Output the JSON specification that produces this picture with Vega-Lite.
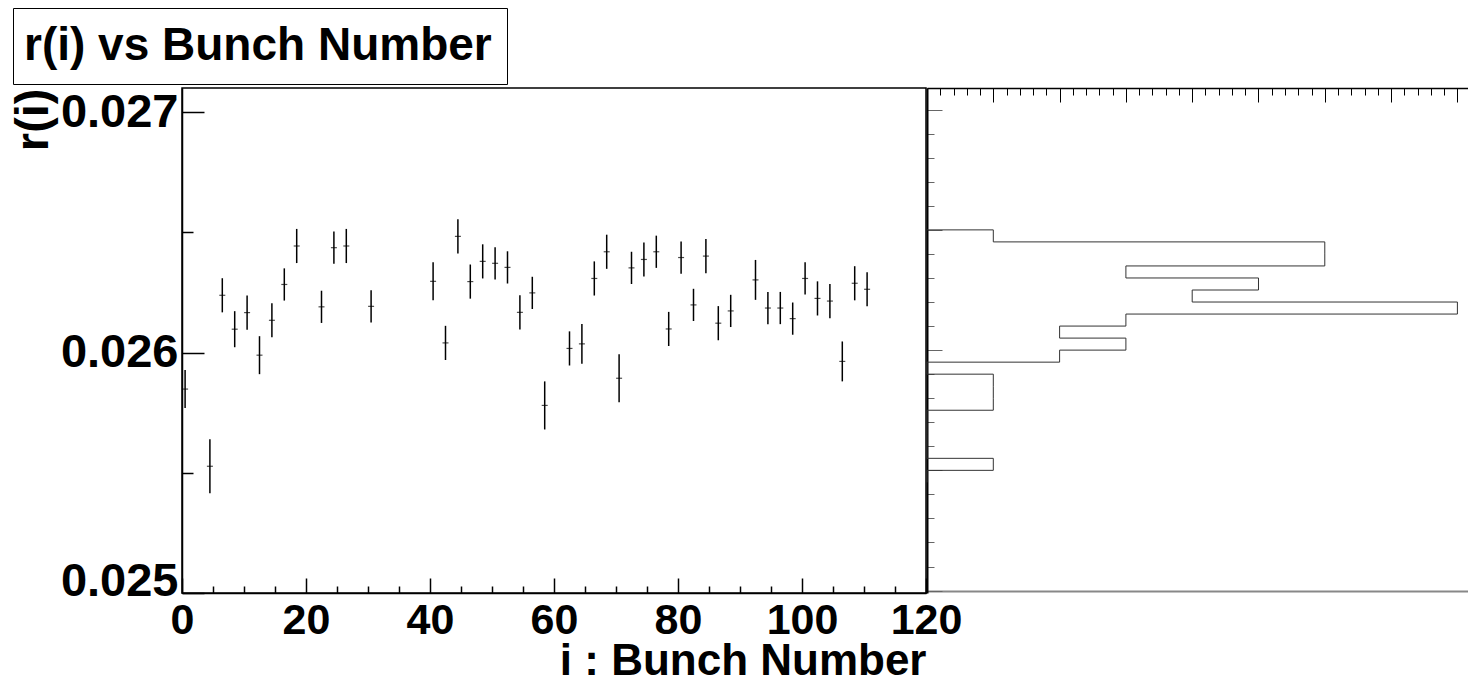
{
  "$schema": "https://vega.github.io/schema/vega-lite/v6.json",
  "background": "white",
  "padding": {"left": 8, "top": 7, "right": 0, "bottom": 0},
  "config": {
    "view": {"stroke": null},
    "font": "Liberation Sans",
    "axis": {"labelFont": "Liberation Sans", "titleFont": "Liberation Sans", "grid": false}
  },
  "datasets": {
    "points": [
      {"bunch": 0.5, "r": 0.025848, "err": 0.000079},
      {"bunch": 4.5, "r": 0.025527, "err": 0.000112},
      {"bunch": 6.5, "r": 0.026238, "err": 0.000071},
      {"bunch": 8.5, "r": 0.026097, "err": 0.000075},
      {"bunch": 10.5, "r": 0.026166, "err": 0.000071},
      {"bunch": 12.5, "r": 0.025989, "err": 0.000079},
      {"bunch": 14.5, "r": 0.026134, "err": 0.000071},
      {"bunch": 16.5, "r": 0.026283, "err": 0.000067},
      {"bunch": 18.5, "r": 0.026443, "err": 0.000071},
      {"bunch": 22.5, "r": 0.02619, "err": 0.000067},
      {"bunch": 24.5, "r": 0.026436, "err": 0.000067},
      {"bunch": 26.5, "r": 0.026443, "err": 0.000071},
      {"bunch": 30.5, "r": 0.026192, "err": 0.000067},
      {"bunch": 40.5, "r": 0.026296, "err": 0.000079},
      {"bunch": 42.5, "r": 0.02604, "err": 0.000071},
      {"bunch": 44.5, "r": 0.026483, "err": 0.000071},
      {"bunch": 46.5, "r": 0.026295, "err": 0.000071},
      {"bunch": 48.5, "r": 0.026379, "err": 0.000071},
      {"bunch": 50.5, "r": 0.026371, "err": 0.000067},
      {"bunch": 52.5, "r": 0.026354, "err": 0.000067},
      {"bunch": 54.5, "r": 0.026167, "err": 0.000071},
      {"bunch": 56.5, "r": 0.026248, "err": 0.000067},
      {"bunch": 58.5, "r": 0.02578, "err": 0.0001},
      {"bunch": 62.5, "r": 0.026017, "err": 0.000071},
      {"bunch": 64.5, "r": 0.026036, "err": 0.000083},
      {"bunch": 66.5, "r": 0.026308, "err": 0.000071},
      {"bunch": 68.5, "r": 0.026419, "err": 0.000071},
      {"bunch": 70.5, "r": 0.025893, "err": 0.0001},
      {"bunch": 72.5, "r": 0.026352, "err": 0.000067},
      {"bunch": 74.5, "r": 0.026387, "err": 0.000071},
      {"bunch": 76.5, "r": 0.026419, "err": 0.000067},
      {"bunch": 78.5, "r": 0.026098, "err": 0.000071},
      {"bunch": 80.5, "r": 0.026395, "err": 0.000067},
      {"bunch": 82.5, "r": 0.026198, "err": 0.000067},
      {"bunch": 84.5, "r": 0.026401, "err": 0.000071},
      {"bunch": 86.5, "r": 0.026122, "err": 0.000071},
      {"bunch": 88.5, "r": 0.026173, "err": 0.000067},
      {"bunch": 92.5, "r": 0.026302, "err": 0.000083},
      {"bunch": 94.5, "r": 0.026185, "err": 0.000067},
      {"bunch": 96.5, "r": 0.026185, "err": 0.000067},
      {"bunch": 98.5, "r": 0.026141, "err": 0.000067},
      {"bunch": 100.5, "r": 0.026308, "err": 0.000067},
      {"bunch": 102.5, "r": 0.026225, "err": 0.000071},
      {"bunch": 104.5, "r": 0.026214, "err": 0.000071},
      {"bunch": 106.5, "r": 0.025963, "err": 0.000083},
      {"bunch": 108.5, "r": 0.026288, "err": 0.000071},
      {"bunch": 110.5, "r": 0.026263, "err": 0.000071}
    ],
    "hist": [
      {"lo": 0.0265, "n": 0},
      {"lo": 0.02645, "n": 1},
      {"lo": 0.0264, "n": 6},
      {"lo": 0.02635, "n": 6},
      {"lo": 0.0263, "n": 3},
      {"lo": 0.02625, "n": 5},
      {"lo": 0.0262, "n": 4},
      {"lo": 0.02615, "n": 8},
      {"lo": 0.0261, "n": 3},
      {"lo": 0.02605, "n": 2},
      {"lo": 0.026, "n": 3},
      {"lo": 0.02595, "n": 2},
      {"lo": 0.0259, "n": 0},
      {"lo": 0.02585, "n": 1},
      {"lo": 0.0258, "n": 1},
      {"lo": 0.02575, "n": 1},
      {"lo": 0.0257, "n": 0},
      {"lo": 0.02565, "n": 0},
      {"lo": 0.0256, "n": 0},
      {"lo": 0.02555, "n": 0},
      {"lo": 0.0255, "n": 1},
      {"lo": 0.02545, "n": 0}
    ]
  },
  "bounds": "flush",
  "spacing": 1,
  "hconcat": [
    {
      "width": 744,
      "height": 505,
      "view": {"stroke": "black", "strokeWidth": 1.5},
      "data": {"name": "points"},
      "encoding": {
        "x": {
          "field": "bunch",
          "type": "quantitative",
          "scale": {"domain": [0, 120], "nice": false, "zero": false},
          "axis": {
            "values": [0, 5, 10, 15, 20, 25, 30, 35, 40, 45, 50, 55, 60, 65, 70, 75, 80, 85, 90, 95, 100, 105, 110, 115, 120],
            "tickSize": {"condition": {"test": "datum.value % 20 === 0", "value": -15}, "value": -7},
            "tickColor": "black",
            "tickWidth": 1.5,
            "domainColor": "black",
            "domainWidth": 1.5,
            "labelExpr": "datum.value % 20 === 0 ? format(datum.value, 'd') : ''",
            "labelOverlap": false,
            "labelBound": false,
            "labelFlush": false,
            "labelFontWeight": "bold",
            "labelFontSize": 43,
            "labelColor": "black",
            "labelPadding": 21,
            "title": "i : Bunch Number",
            "titleFontWeight": "bold",
            "titleFontSize": 44,
            "titleColor": "black",
            "titleAnchor": "end",
            "titlePadding": -11
          }
        },
        "y": {
          "field": "r",
          "type": "quantitative",
          "scale": {"domain": [0.025, 0.0271], "nice": false, "zero": false},
          "axis": {
            "values": [0.025, 0.0255, 0.026, 0.0265, 0.027],
            "tickSize": {"condition": {"test": "abs(datum.value * 1000 - round(datum.value * 1000)) < 1e-6", "value": -22}, "value": -11},
            "tickColor": "black",
            "tickWidth": 1.5,
            "domainColor": "black",
            "domainWidth": 1.5,
            "labelExpr": "abs(datum.value * 1000 - round(datum.value * 1000)) < 1e-6 ? format(datum.value, '.3f') : ''",
            "labelOverlap": false,
            "labelBound": false,
            "labelFlush": true,
            "labelFlushOffset": 12,
            "labelFontWeight": "bold",
            "labelFontSize": 47,
            "labelColor": "black",
            "labelPadding": 26,
            "title": "r(i)",
            "titleFontWeight": "bold",
            "titleFontSize": 47,
            "titleColor": "black",
            "titleAnchor": "end",
            "titlePadding": 3
          }
        }
      },
      "layer": [
        {
          "mark": {"type": "errorbar", "thickness": 1.5},
          "encoding": {
            "yError": {"field": "err"},
            "color": {
              "datum": "r(i) vs Bunch Number",
              "type": "nominal",
              "scale": {"range": ["black"]},
              "legend": {
                "orient": "none",
                "legendX": -169,
                "legendY": -80,
                "title": null,
                "strokeColor": "black",
                "fillColor": "white",
                "padding": 15,
                "symbolType": "circle",
                "symbolSize": 0,
                "symbolOpacity": 0,
                "symbolStrokeWidth": 0,
                "labelOffset": -50,
                "labelLimit": 800,
                "labelFont": "Liberation Sans",
                "labelFontWeight": "bold",
                "labelFontSize": 46,
                "labelColor": "black"
              }
            }
          }
        },
        {
          "mark": {"type": "tick", "orient": "horizontal", "color": "black", "size": 6, "thickness": 1.2}
        }
      ]
    },
    {
      "width": 541,
      "height": 505,
      "data": {"name": "hist"},
      "mark": {"type": "line", "color": "#333333", "strokeWidth": 1, "interpolate": "step-after"},
      "encoding": {
        "x": {
          "field": "n",
          "type": "quantitative",
          "scale": {"domain": [0, 8.16], "nice": false},
          "axis": {
            "orient": "top",
            "values": [0, 0.2, 0.4, 0.6, 0.8, 1, 1.2, 1.4, 1.6, 1.8, 2, 2.2, 2.4, 2.6, 2.8, 3, 3.2, 3.4, 3.6, 3.8, 4, 4.2, 4.4, 4.6, 4.8, 5, 5.2, 5.4, 5.6, 5.8, 6, 6.2, 6.4, 6.6, 6.8, 7, 7.2, 7.4, 7.6, 7.8, 8],
            "tickSize": {"condition": {"test": "abs(datum.value - round(datum.value)) < 1e-6", "value": -14}, "value": -7},
            "tickColor": "black",
            "tickWidth": 1,
            "domainColor": "black",
            "domainWidth": 1.5,
            "labels": false,
            "title": null
          }
        },
        "y": {
          "field": "lo",
          "type": "quantitative",
          "scale": {"domain": [0.02499, 0.02709], "nice": false, "zero": false},
          "axis": {
            "values": [0.025, 0.0251, 0.0252, 0.0253, 0.0254, 0.0255, 0.0256, 0.0257, 0.0258, 0.0259, 0.026, 0.0261, 0.0262, 0.0263, 0.0264, 0.0265, 0.0266, 0.0267, 0.0268, 0.0269, 0.027],
            "tickSize": {"condition": {"test": "abs(datum.value * 2000 - round(datum.value * 2000)) < 1e-6", "value": -15}, "value": -7},
            "tickColor": "#666666",
            "tickWidth": 1,
            "domainColor": "black",
            "domainWidth": 2,
            "labels": false,
            "title": null,
            "grid": true,
            "gridColor": "#888888",
            "gridWidth": 2,
            "gridOpacity": {"condition": {"test": "datum.value < 0.02502", "value": 1}, "value": 0}
          }
        },
        "order": {"field": "lo", "type": "quantitative", "sort": "descending"}
      }
    }
  ]
}
